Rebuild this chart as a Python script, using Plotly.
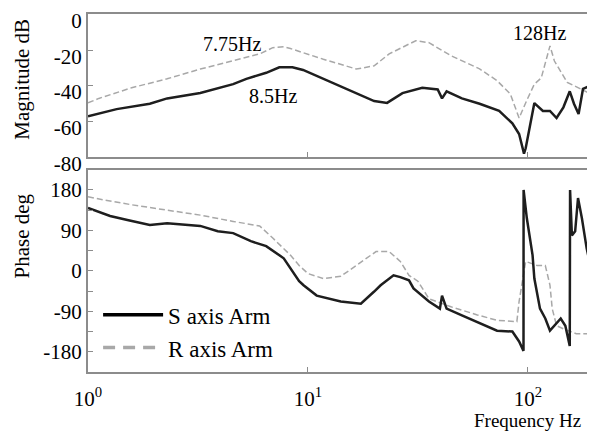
import plotly.graph_objects as go

# magnitude, S axis arm (black)
s_mag_f = [1, 1.35, 1.91, 2.29, 3.24, 4.57, 5.25, 6.46, 7.41, 8.5, 9.5, 11.75, 16.6, 20, 22.9,
           26.9, 33.1, 38.9, 40.7, 42.7, 50.1, 60.3, 74, 85, 91.2, 96, 97.7, 100, 105, 107,
           117, 126, 135, 145, 155, 162, 170, 178, 191, 200]
s_mag_db = [-57, -53, -50, -47, -44, -39, -36, -32.6, -29.5, -29.5, -31, -36, -44, -48.5, -49.5,
            -44, -41, -42, -47, -43, -47, -50, -54, -61, -67, -78, -75, -68, -54, -49.6,
            -54, -54, -58, -52, -43, -50, -55.8, -41.7, -40, -39]

# magnitude, R axis arm (grey)
r_mag_f = [1, 1.12, 1.58, 2.29, 3.24, 4.57, 6.03, 6.92, 7.75, 8.32, 11.75, 16.6, 20, 23.4, 30.9,
           35.5, 44.7, 60.3, 72.4, 83.2, 91.2, 98.9, 107, 115, 126, 132, 151, 174, 200]
r_mag_db = [-49.5, -47, -41, -36, -30.5, -26, -22, -18.5, -18, -19, -25, -30.5, -28.7, -22, -14.6,
            -15.7, -23, -30.4, -37, -44.5, -58, -48, -39, -35.5, -17.5, -26, -38, -41.7, -45.6]

# phase, S axis arm
s_ph_f = [1, 1.26, 1.51, 1.91, 2.29, 3.24, 3.89, 4.57, 5.5, 6.46, 7.76, 8.51, 9.12, 9.55, 10.96,
          14.1, 17.4, 20, 21.4, 24.5, 26.3, 28.8, 30.2, 35.5, 39.8, 40.7, 42.7, 50.1, 60.3, 72.4,
          85, 89.1, 91.2, 95.5, 95.6, 98.9, 102, 105, 107, 113.5, 120, 126, 141, 148, 155,
          155.5, 158.5, 164, 169, 176, 185, 197]
s_ph_deg = [140, 122, 113, 102, 106, 100, 88, 84, 66, 55, 28, -1, -23, -32, -55,
            -68, -73, -46, -32, -10, -14, -21, -39, -68, -84, -55, -84, -99, -117, -133,
            -135, -151, -157, -178, 180, 117, 72, 35, -17, -84, -106, -133, -106, -122, -167,
            180, 79, 88, 162, 117, 50, -10]

# phase, R axis arm
r_ph_f = [1, 1.17, 1.58, 2.29, 3.24, 4.57, 6.03, 6.92, 8.32, 9.12, 10, 11.75, 14.1, 16.6, 20.4,
          23.4, 26.3, 28.8, 31.6, 35.5, 44.7, 58.9, 72.4, 89.1, 91.2, 97.7, 105, 110, 120, 126,
          129, 135, 145, 155, 166, 200]
r_ph_deg = [165, 158, 147, 135, 124, 110, 100, 73, 35, 12, -6, -17, -12, 12, 43,
            43, 21, -10, -23, -62, -80, -98, -110, -113, -68, 21, 15, 12, 12, -32,
            -84, -122, -129, -135, -140, -140]

mag_ticks = [0, -20, -40, -60, -80]
phase_ticks = [180, 90, 0, -90, -180]
freq_ticks = [1, 10, 100]
freq_labels = ["10<sup>0</sup>", "10<sup>1</sup>", "10<sup>2</sup>"]

dark = "#1e1e1e"
grey = "#a8a8a8"
frame = "#8c8c8c"
serif = '"Liberation Serif", "Times New Roman", "DejaVu Serif", serif'

fig = go.Figure()
fig.add_trace(go.Scatter(x=r_mag_f, y=r_mag_db, mode="lines", showlegend=False,
                         line=dict(color=grey, width=1.5, dash="6px,3px"), xaxis="x", yaxis="y"))
fig.add_trace(go.Scatter(x=s_mag_f, y=s_mag_db, mode="lines", showlegend=False,
                         line=dict(color=dark, width=2.5), xaxis="x", yaxis="y"))
fig.add_trace(go.Scatter(x=r_ph_f, y=r_ph_deg, mode="lines", showlegend=False,
                         line=dict(color=grey, width=1.5, dash="6px,3px"), xaxis="x2", yaxis="y2"))
fig.add_trace(go.Scatter(x=s_ph_f, y=s_ph_deg, mode="lines", showlegend=False,
                         line=dict(color=dark, width=2.5), xaxis="x2", yaxis="y2"))

# legend entries
fig.add_trace(go.Scatter(x=[None], y=[None], mode="lines", name="S axis Arm",
                         line=dict(color="black", width=3.5), xaxis="x2", yaxis="y2"))
fig.add_trace(go.Scatter(x=[None], y=[None], mode="lines", name="R axis Arm",
                         line=dict(color=grey, width=3.5, dash="12px,8px"), xaxis="x2", yaxis="y2"))

xcommon = dict(type="log", range=[0, 2.296], showline=True, linecolor=frame, linewidth=2,
               mirror=True, showgrid=False, zeroline=False, ticks="inside", ticklen=5,
               tickcolor=frame, tickvals=freq_ticks, automargin=False)
ycommon = dict(showline=True, linecolor=frame, linewidth=2, mirror=True, showgrid=False,
               zeroline=False, ticks="inside", ticklen=5, tickcolor=frame, automargin=False,
               tickfont=dict(family=serif, size=21, color="black"))

# page body keeps an 8px margin, so the figure is sized/offset to land on the 595x432 window
fig.update_layout(
    width=587, height=424,
    margin=dict(l=80, r=2, t=6, b=60),
    paper_bgcolor="white", plot_bgcolor="white",
    font=dict(family=serif, size=21, color="black"),
    xaxis=dict(xcommon, domain=[0, 1], anchor="y", showticklabels=False),
    yaxis=dict(ycommon, domain=[0.6, 1], range=[-80, 0.4], tickvals=mag_ticks,
               ticktext=[str(v) for v in mag_ticks], anchor="x", ticklabelshift=6),
    xaxis2=dict(xcommon, domain=[0, 1], anchor="y2", ticktext=freq_labels,
                tickfont=dict(family=serif, size=21, color="black"), ticklabelstandoff=7),
    yaxis2=dict(ycommon, domain=[0, 0.565], range=[-225, 225], tickvals=phase_ticks,
                ticktext=[str(v) for v in phase_ticks], anchor="x2",
                minor=dict(dtick=45, tick0=0, ticks="inside", ticklen=5, tickcolor=frame)),
    legend=dict(x=0.02, y=0.22, xanchor="left", yanchor="top", bgcolor="rgba(0,0,0,0)",
                font=dict(family=serif, size=23), itemwidth=60, tracegroupgap=0),
    annotations=[
        dict(text="Magnitude dB", xref="paper", yref="paper", x=-0.131, y=0.819,
             xanchor="center", yanchor="middle", textangle=-90, showarrow=False,
             font=dict(family=serif, size=21)),
        dict(text="Phase deg", xref="paper", yref="paper", x=-0.131, y=0.381,
             xanchor="center", yanchor="middle", textangle=-90, showarrow=False,
             font=dict(family=serif, size=21)),
        dict(text="Frequency Hz", xref="paper", yref="paper", x=0.871, y=-0.135,
             xanchor="center", yanchor="middle", showarrow=False,
             font=dict(family=serif, size=19)),
        dict(text="7.75Hz", xref="x", yref="y", x=0.655, y=-16.3, showarrow=False,
             font=dict(family=serif, size=20)),
        dict(text="8.5Hz", xref="x", yref="y", x=0.84, y=-45.6, showarrow=False,
             font=dict(family=serif, size=20)),
        dict(text="128Hz", xref="x", yref="y", x=2.055, y=-10.1, showarrow=False,
             font=dict(family=serif, size=20)),
    ],
)

fig.write_html("out.html")
